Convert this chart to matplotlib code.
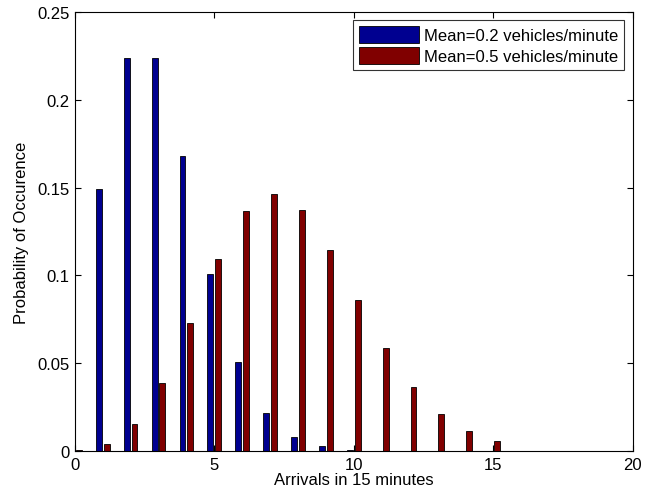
import matplotlib.pyplot as plt
import numpy as np

plt.rcParams['font.family'] = ['Liberation Sans', 'DejaVu Sans']

arrivals = list(range(0, 16))
p_low = [0.0498, 0.1494, 0.2240, 0.2240, 0.1680, 0.1008, 0.0504, 0.0216,
         0.0081, 0.0027, 0.0008, 0.0002, 0.0001, 0.0000, 0.0000, 0.0000]
p_high = [0.0006, 0.0041, 0.0156, 0.0389, 0.0729, 0.1094, 0.1367, 0.1465,
          0.1373, 0.1144, 0.0858, 0.0585, 0.0366, 0.0211, 0.0113, 0.0057]
labels = ['Mean=0.2 vehicles/minute', 'Mean=0.5 vehicles/minute']

fig = plt.figure(figsize=(6.45, 5.02), dpi=100)
ax = fig.add_axes([0.116, 0.0996, 0.865, 0.8745])

x = np.array(arrivals)
w = 0.21
ax.bar(x - 0.14, p_low, w, color='#000090', edgecolor='black', linewidth=0.6, label=labels[0])
ax.bar(x + 0.14, p_high, w, color='#800000', edgecolor='black', linewidth=0.6, label=labels[1])

ax.set_xlim(0, 20)
ax.set_ylim(0, 0.25)
ax.set_xticks([0, 5, 10, 15, 20])
ax.set_yticks([0, 0.05, 0.1, 0.15, 0.2, 0.25])
ax.set_yticklabels(['0', '0.05', '0.1', '0.15', '0.2', '0.25'])
ax.tick_params(direction='in', top=True, right=True, labelsize=12, length=4, pad=4)
ax.set_xlabel('Arrivals in 15 minutes', fontsize=12, labelpad=0)
ax.set_ylabel('Probability of Occurence', fontsize=12, labelpad=6)

leg = ax.legend(loc='upper right', fontsize=12, fancybox=False, edgecolor='black',
                handlelength=3.6, handleheight=1.2, borderaxespad=0.5,
                labelspacing=0.2, handletextpad=0.3, borderpad=0.35)
leg.get_frame().set_linewidth(0.8)

fig.savefig('out.png', dpi=100)
